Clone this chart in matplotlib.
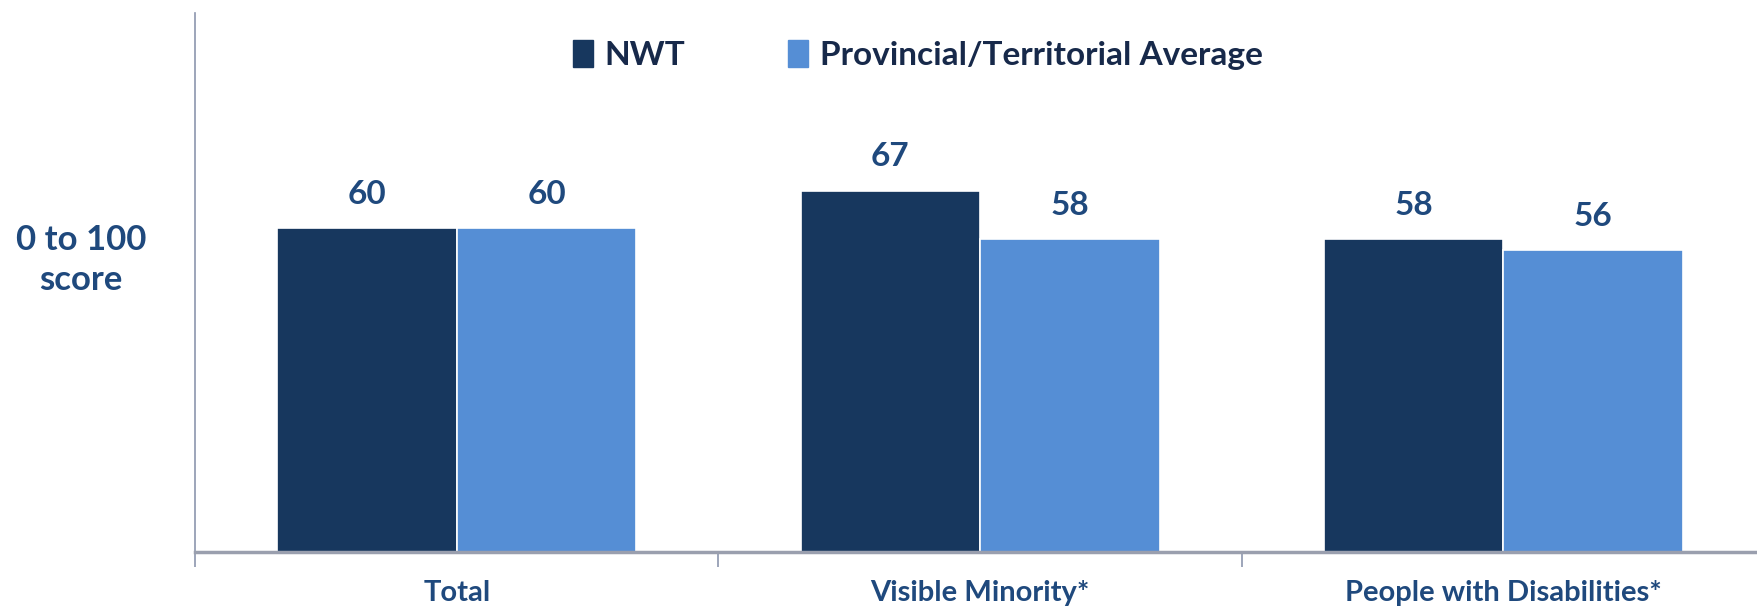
import numpy as np
import matplotlib
matplotlib.use('Agg')
import matplotlib.pyplot as plt
import matplotlib.patches as patches

# 데이터
categories = ['Total', 'Visible Minority*', 'People with Disabilities*']
nwt_values = [60, 67, 58]
avg_values = [60, 58, 56]
series_names = ['NWT', 'Provincial/Territorial Average']

NWT_COLOR = '#17375E'
AVG_COLOR = '#558ED5'
LABEL_COLOR = '#1F497D'
LEGEND_TEXT = '#17294A'
SPINE_COLOR = '#8C96AE'

plt.rcParams['font.family'] = ['Lato', 'DejaVu Sans']

fig = plt.figure(figsize=(17.58, 6.08), dpi=100)
ax = fig.add_axes([0.111, 0.092, 0.893, 0.887])

x = np.arange(len(categories))
width = 0.343

bars1 = ax.bar(x - width / 2, nwt_values, width, color=NWT_COLOR,
               edgecolor='white', linewidth=1.2, zorder=2)
bars2 = ax.bar(x + width / 2, avg_values, width, color=AVG_COLOR,
               edgecolor='white', linewidth=1.2, zorder=2)

# 값 라벨
for bars in (bars1, bars2):
    for b in bars:
        ax.annotate(f'{b.get_height():.0f}',
                    (b.get_x() + b.get_width() / 2, b.get_height()),
                    xytext=(0, 14), textcoords='offset points',
                    ha='center', va='bottom', fontsize=24,
                    fontweight='bold', color=LABEL_COLOR)

ax.set_xlim(-0.5, len(categories) - 0.5)
ax.set_ylim(0, 100)

# 축 스타일
for side in ('top', 'right'):
    ax.spines[side].set_visible(False)
ax.spines['left'].set_color(SPINE_COLOR)
ax.spines['left'].set_linewidth(1.2)
ax.spines['bottom'].set_color('#9A9FAE')
ax.spines['bottom'].set_linewidth(2.5)
ax.set_yticks([])

# 범주 경계 눈금
ax.set_xticks(np.arange(-0.5, len(categories), 1.0))
ax.set_xticklabels([])
ax.tick_params(axis='x', direction='out', length=11, width=1.2,
               color=SPINE_COLOR)
for i, cat in enumerate(categories):
    ax.text(i, -0.075, cat, transform=ax.get_xaxis_transform(),
            ha='center', va='center', fontsize=21, fontweight='bold',
            color=LABEL_COLOR)

# y축 제목
fig.text(0.046, 0.572, '0 to 100\nscore', ha='center', va='center',
         fontsize=25, fontweight='bold', color=LABEL_COLOR,
         linespacing=1.3)

# 범례
handles = [patches.Patch(color=NWT_COLOR), patches.Patch(color=AVG_COLOR)]
leg = fig.legend(handles, series_names, loc='center',
                 bbox_to_anchor=(0.522, 0.91), ncol=2, frameon=False,
                 fontsize=24, handlelength=0.6, handleheight=0.9,
                 handletextpad=0.35, columnspacing=3.1)
for t in leg.get_texts():
    t.set_fontweight('bold')
    t.set_color(LEGEND_TEXT)

fig.savefig('out.png', dpi=100)
